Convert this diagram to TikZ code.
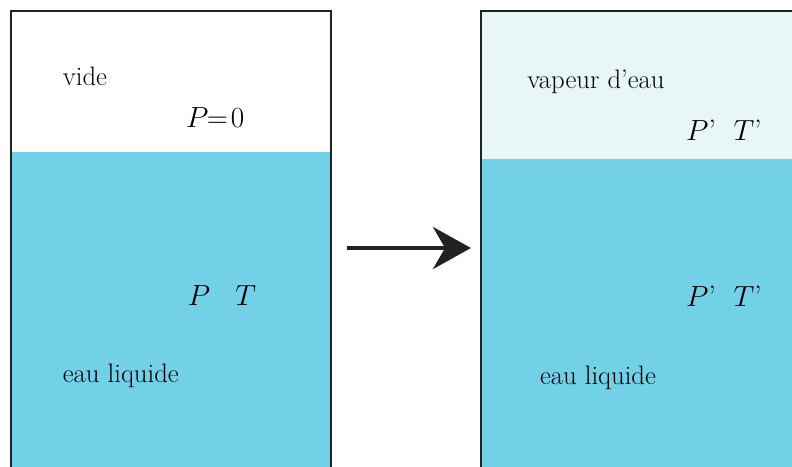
\documentclass[tikz,border=0pt]{standalone}
\usepackage{xcolor}
\usepackage{tikz}
\usetikzlibrary{arrows.meta, positioning}
\definecolor{eau}{HTML}{72D1E6}
\definecolor{vapeur}{HTML}{E8F6F6}
\definecolor{trait}{HTML}{222222}

\begin{document}
\begin{tikzpicture}[scale=1]
\tikzstyle{paroi}=[draw=trait,line width=2pt]
\tikzstyle{txt}=[text=black,font=\fontsize{19}{22}\selectfont]
\tikzstyle{grandeur}=[text=black,font=\fontsize{21}{25}\selectfont]

\clip (0,0) rectangle (19.8,11.65);

% recipient de gauche
\fill[eau] (0.275,-1) rectangle (8.275,7.85);
\draw[paroi] (0.275,-1) -- (0.275,11.375) -- (8.275,11.375) -- (8.275,-1);
\node[txt] (vide) at (2.125,9.75) {vide};
\node[grandeur] (p0) at (5.38,8.7) {$P\!\!=\!0$};
\node[grandeur] (pt) at (5.55,4.25) {$P$\hspace{0.85em}$T$};
\node[txt] (liq1) at (3.02,2.25) {eau liquide};

% recipient de droite
\fill[vapeur] (12.025,7.675) rectangle (20.5,11.375);
\fill[eau] (12.025,-1) rectangle (20.5,7.675);
\draw[paroi] (12.025,-1) -- (12.025,11.375) -- (20.5,11.375);
\node[txt] (vap) at (14.9,9.6) {vapeur d'eau};
\node[grandeur] (ptv) at (18.1,8.4) {$P$'\hspace{0.6em}$T$'};
\node[grandeur] (ptl) at (18.1,4.25) {$P$'\hspace{0.6em}$T$'};
\node[txt] (liq2) at (14.95,2.2) {eau liquide};

\coordinate (a1) at (8.675,5.45);
\coordinate (a2) at (11.775,5.45);
\draw[trait,line width=3pt,-{Stealth[length=0.95cm,width=1.05cm,inset=0.3cm]}] (a1) -- (a2);

\end{tikzpicture}
\end{document}
